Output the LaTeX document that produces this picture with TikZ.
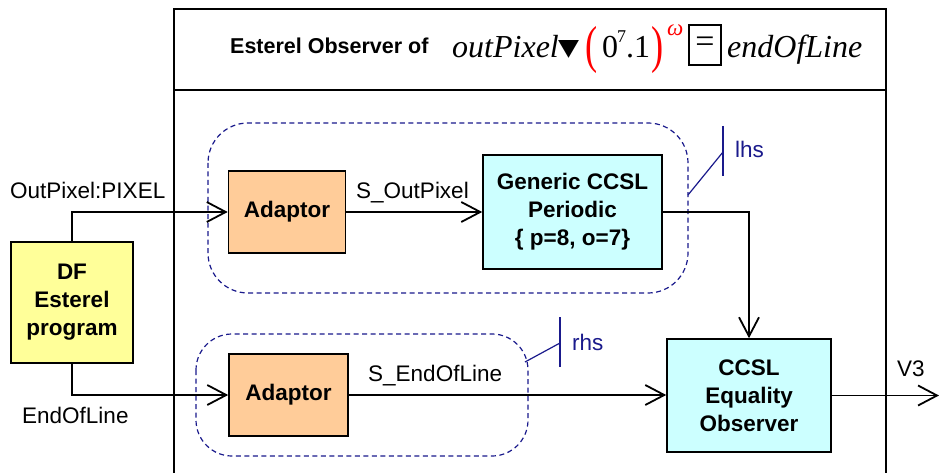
\documentclass[tikz,border=0pt]{standalone}
\usepackage{fontspec}
\setmainfont{Liberation Sans}
\newfontfamily\tms{Liberation Serif}
\newfontfamily\dvs{DejaVu Sans}
\usepackage{graphicx}
\usetikzlibrary{arrows.meta}
\definecolor{dfyel}{HTML}{FFFF99}
\definecolor{adorg}{HTML}{FFCC99}
\definecolor{cyanbox}{HTML}{CCFFFF}
\definecolor{mynavy}{HTML}{1A1A8C}
\begin{document}
\begin{tikzpicture}[x=1pt,y=-1pt,
  every node/.style={font=\fontsize{22.5}{28}\selectfont},
  blk/.style={draw=black, line width=1.6pt, align=center, inner sep=0pt,
    font=\bfseries\fontsize{22.5}{28}\selectfont},
  conn/.style={line width=1.8pt, -{Straight Barb[length=19pt,width=20pt]}},
  lbl/.style={anchor=base west, inner sep=0pt},
  grp/.style={draw=mynavy, dash pattern=on 5pt off 3.5pt, line width=1.2pt},
  tagline/.style={draw=mynavy, line width=1.2pt},
  taglbl/.style={anchor=base west, inner sep=0pt, text=mynavy},
  frm/.style={line width=1.3pt},
  fitl/.style={anchor=base west, inner sep=0pt, font=\tms\itshape\fontsize{32}{36}\selectfont},
  fup/.style={anchor=base west, inner sep=0pt, font=\tms\fontsize{32}{36}\selectfont},
  fpar/.style={anchor=base west, inner sep=0pt, text=red, font=\tms\fontsize{52}{52}\selectfont}
]
\useasboundingbox (0,0) rectangle (939,473);
\fill[white] (0,0) rectangle (939,473);

% frame
\draw[frm] (174,473) -- (174,9) -- (886,9) -- (886,473);
\draw[frm] (174,90) -- (886,90);

% title
\node[lbl, font=\bfseries\fontsize{21.5}{28}\selectfont] (ttl) at (230,54) {Esterel Observer of};
\node[fitl] (f1) at (452,58) {outPixel};
\node[inner sep=0pt] (f2) at (568.5,49.5) {\resizebox{21pt}{15pt}{\dvs ▼}};
\node[fpar] (f3) at (585,63) {\scalebox{0.7}[1]{(}};
\node[fup] (f4) at (602,58) {0};
\node[anchor=base west, inner sep=0pt, font=\tms\fontsize{18}{20}\selectfont] (f5) at (617,43) {7};
\node[fup] (f6) at (626,58) {.1};
\node[fpar] (f7) at (651,63) {\scalebox{0.7}[1]{)}};
\node[anchor=base west, inner sep=0pt, text=red, font=\tms\itshape\fontsize{23}{24}\selectfont] (f8) at (667,36) {ω};
\node[draw=black, line width=1.3pt, minimum width=32pt, minimum height=40pt, inner sep=0pt,
      font=\tms\fontsize{34}{36}\selectfont] (f9) at (705,45) {=};
\node[fitl] (f10) at (727,58) {endOfLine};

% groups
\draw[grp, rounded corners=40pt] (208,123) rectangle (688,293);
\draw[grp, rounded corners=36pt] (196,334) rectangle (528,456);

% blocks
\node[blk, fill=dfyel, minimum width=122pt, minimum height=121pt] (df) at (72,302.5) {DF\\Esterel\\program};
\node[blk, fill=adorg, minimum width=117pt, minimum height=82pt] (ad1) at (287,212) {Adaptor};
\node[blk, fill=cyanbox, minimum width=179pt, minimum height=114pt] (gen) at (572.5,212) {Generic CCSL\\Periodic\\\{ p=8, o=7\}};
\node[blk, fill=adorg, minimum width=119pt, minimum height=82pt] (ad2) at (288.5,395) {Adaptor};
\node[blk, fill=cyanbox, minimum width=164pt, minimum height=113pt] (eq) at (749,395.5) {CCSL\\Equality\\Observer};

% connectors
\coordinate (out) at (939,395.5);
\draw[conn] (df.north) |- (ad1.west);
\draw[conn] (df.south) |- (ad2.west);
\draw[conn] (ad1.east) -- (gen.west);
\draw[conn] (gen.east) -| (eq.north);
\draw[conn] (ad2.east) -- (ad2.east -| eq.west);
\draw[conn] (eq.east) -- (out);

% labels
\node[lbl] (l1) at (10,199) {OutPixel:PIXEL};
\node[lbl] (l2) at (22,423) {EndOfLine};
\node[lbl] (l3) at (356,198) {S\_OutPixel};
\node[lbl] (l4) at (368,381) {S\_EndOfLine};
\node[lbl] (l5) at (897,376) {V3};

% lhs / rhs tags
\coordinate (lA) at (688,195);
\coordinate (lB) at (723,152);
\coordinate (lT) at (723,126);
\coordinate (lD) at (723,176);
\draw[tagline] (lA) -- (lB);
\draw[tagline] (lT) -- (lD);
\node[taglbl] (lhs) at (735,158) {lhs};
\coordinate (rA) at (525,362);
\coordinate (rB) at (560,343);
\coordinate (rT) at (560,317);
\coordinate (rD) at (560,367);
\draw[tagline] (rA) -- (rB);
\draw[tagline] (rT) -- (rD);
\node[taglbl] (rhs) at (572,350) {rhs};
\end{tikzpicture}
\end{document}
